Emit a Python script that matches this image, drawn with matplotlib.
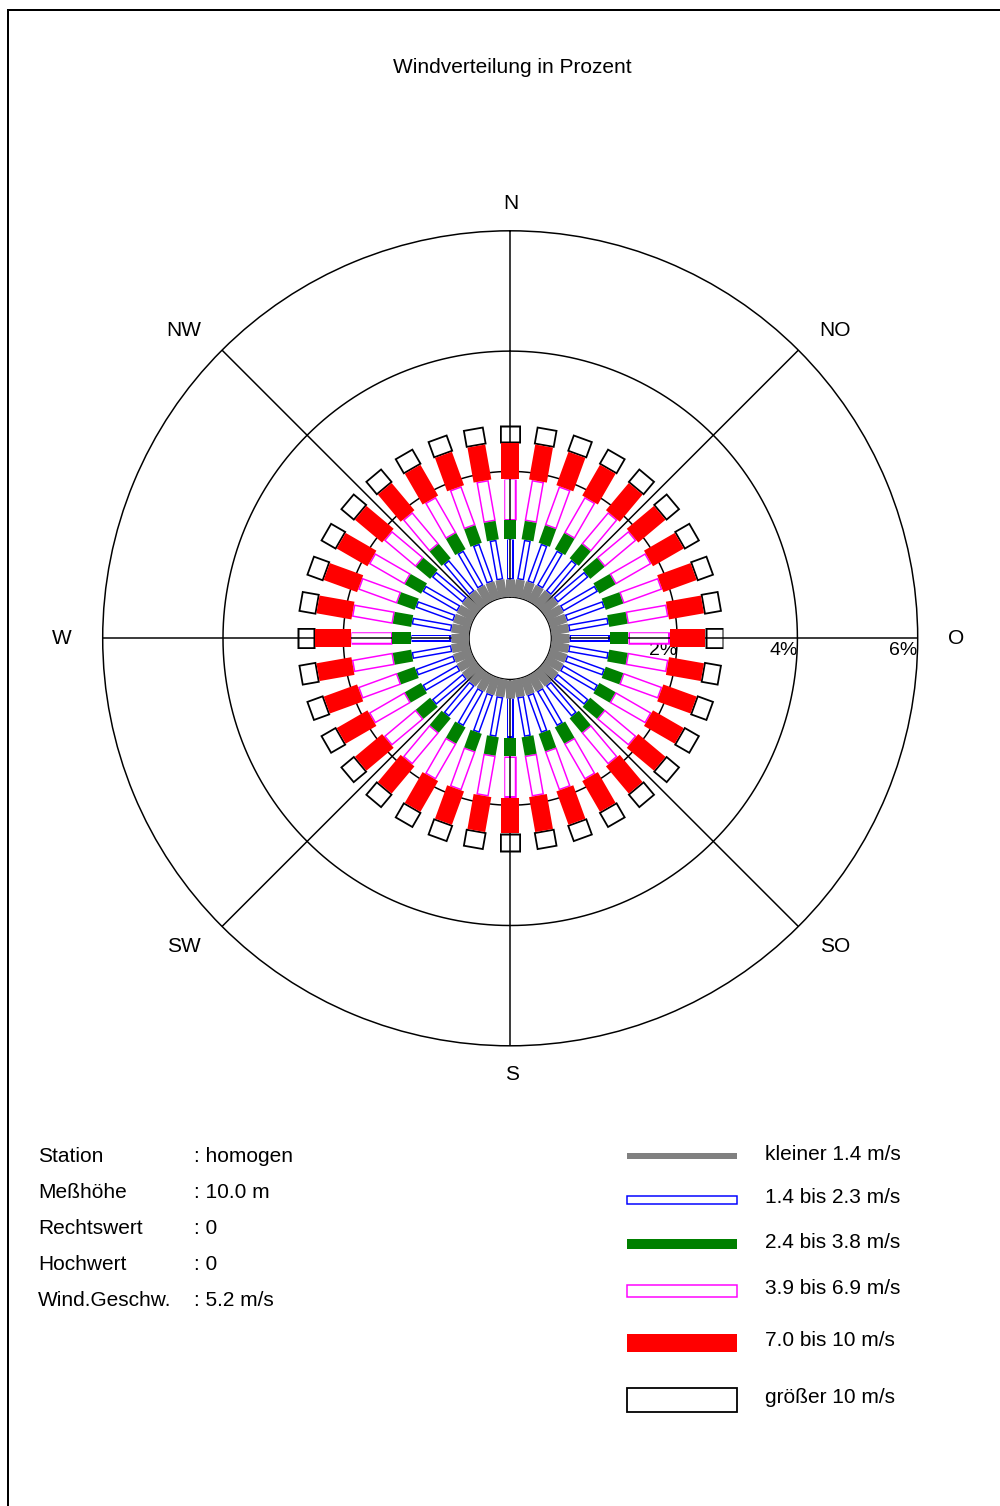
import numpy as np
import matplotlib
matplotlib.use("Agg")
import matplotlib.pyplot as plt
from matplotlib.patches import Rectangle

## 1. Data (station "homogen": every 10-degree sector carries the same split)
dir_deg = np.arange(0, 360, 10)
class_labels = ["kleiner 1.4 m/s", "1.4 bis 2.3 m/s", "2.4 bis 3.8 m/s",
                "3.9 bis 6.9 m/s", "7.0 bis 10 m/s", "größer 10 m/s"]
class_pct = [0.21, 0.67, 0.31, 0.69, 0.59, 0.30]   # percent per sector
class_colors = ["#808080", "#0000ff", "#008000", "#ff00ff", "#ff0000", "#000000"]
class_hollow = [False, True, False, True, False, True]

ring_pct = [2, 4, 6]
compass = ["N", "NO", "O", "SO", "S", "SW", "W", "NW"]
compass_deg = [0, 45, 90, 135, 180, 225, 270, 315]

info_keys = ["Station", "Meßhöhe", "Rechtswert", "Hochwert", "Wind.Geschw."]
info_vals = [": homogen", ": 10.0 m", ": 0", ": 0", ": 5.2 m/s"]

## 2. Style
bar_px = [9, 7, 12, 12.5, 18, 21]    # bar widths in pixels
edge_px = [0, 1.5, 0, 1.5, 0, 1.8]   # outline for hollow bars
legend_px = [6, 8, 10, 12, 18, 24]
compass_xy = [(511, 203), (835, 330), (956, 638), (835, 946),
              (512, 1075), (184, 946), (62, 638), (184, 330)]
FONT = "Liberation Sans"
FS = 15
W, H = 1000, 1506
pt = 72 / 100.0                       # points per pixel

plt.rcParams["font.family"] = [FONT, "DejaVu Sans"]

fig = plt.figure(figsize=(W / 100, H / 100), dpi=100)

# pixel-space axes for frame, title, labels, info block and legend
pax = fig.add_axes([0, 0, 1, 1])
pax.set_xlim(0, W)
pax.set_ylim(H, 0)
pax.axis("off")

pax.plot([7.5, 7.5], [9.5, H], color="black", lw=2 * pt)
pax.plot([7.5, W], [9.5, 9.5], color="black", lw=2 * pt)
pax.text(512, 67, "Windverteilung in Prozent", ha="center", va="center", fontsize=FS)

for lab, (x, y) in zip(compass, compass_xy):
    pax.text(x, y, lab, ha="center", va="center", fontsize=FS)

## 3. Rose
cx, cy, R = 510.2, 638.3, 407.5
rorigin, rmin, rmax = -0.775, -0.09, 6
px_per = R / (rmax - rorigin)

ax = fig.add_axes([(cx - R) / W, 1 - (cy + R) / H, 2 * R / W, 2 * R / H],
                  projection="polar")
ax.set_theta_zero_location("N")
ax.set_theta_direction(-1)
ax.set_rorigin(rorigin)
ax.set_ylim(rmin, rmax)
ax.set_xticks([])
ax.set_yticks([])
ax.grid(False)
for sp in ax.spines.values():
    sp.set_color("black")
    sp.set_linewidth(1.5 * pt)

circ = np.linspace(0, 2 * np.pi, 721)
for rp in ring_pct[:-1]:
    ax.plot(circ, np.full_like(circ, rp), color="black", lw=1.5 * pt, zorder=1)

for d in compass_deg:
    th = np.deg2rad(d)
    ax.plot([th, th], [rmin, rmax], color="black", lw=1.5 * pt, zorder=3)

for rp in ring_pct:
    ax.annotate(f"{rp}%", (np.pi / 2, rp), xytext=(0, -3), textcoords="offset points",
                ha="right", va="top", fontsize=FS - 1, zorder=1.5, annotation_clip=False)

edges = np.concatenate([[0], np.cumsum(class_pct)])
edges[0] = rmin
for d in dir_deg:
    th = np.deg2rad(d)
    for i in range(len(class_pct)):
        r0, r1 = edges[i], edges[i + 1]
        if class_hollow[i]:
            e = edge_px[i]
            ax.plot([th, th], [r0, r1], color=class_colors[i], lw=bar_px[i] * pt,
                    solid_capstyle="butt", zorder=2)
            ax.plot([th, th], [r0 + e / px_per, r1 - e / px_per], color="white",
                    lw=(bar_px[i] - 2 * e) * pt, solid_capstyle="butt", zorder=2.1)
        else:
            ax.plot([th, th], [r0, r1], color=class_colors[i], lw=bar_px[i] * pt,
                    solid_capstyle="butt", zorder=4)

## 4. Info block
info_y = [1156, 1192, 1228, 1264, 1300]
for k, v, y in zip(info_keys, info_vals, info_y):
    pax.text(38, y, k, ha="left", va="center", fontsize=FS)
    pax.text(194, y, v, ha="left", va="center", fontsize=FS)

## 5. Legend
leg_y = [1156.3, 1199.5, 1244.3, 1290.8, 1342.8, 1399.7]
x0, x1 = 627, 737
for i, y in enumerate(leg_y):
    h = legend_px[i]
    if class_hollow[i]:
        pax.add_patch(Rectangle((x0, y - h / 2), x1 - x0, h, facecolor="white",
                                edgecolor=class_colors[i], lw=edge_px[i] * pt))
    else:
        pax.add_patch(Rectangle((x0, y - h / 2), x1 - x0, h, facecolor=class_colors[i],
                                edgecolor="none"))
    pax.text(765, y - 2, class_labels[i], ha="left", va="center", fontsize=FS)

fig.savefig("out.png", dpi=100)
